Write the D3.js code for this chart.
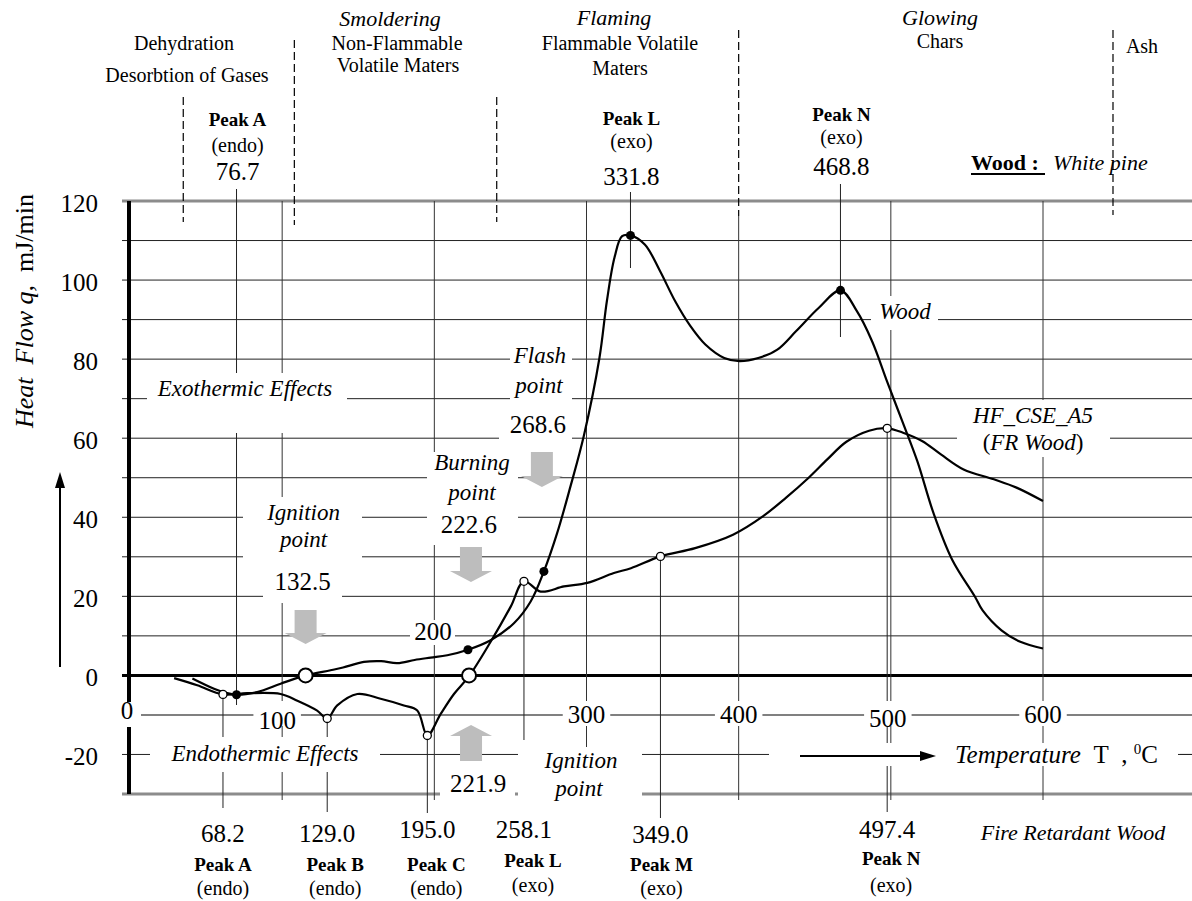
<!DOCTYPE html>
<html>
<head>
<meta charset="utf-8">
<script src="https://cdn.jsdelivr.net/npm/d3@7"></script>
<style>
  body { margin: 0; background: #fff; }
  svg { display: block; }
  text { font-family: "Liberation Serif", "Times New Roman", serif; fill: #000; }
</style>
</head>
<body>
<div id="chart"></div>
<script>
// DATA

// Wood (white pine) heat flow curve, T in degC, q in mJ/min
const woodT = [41, 55.2, 62, 70, 83.6, 99, 115.4, 131.8, 140, 153.7, 165, 175.6, 187, 197.6, 208.5, 222.1,
  237, 252.3, 263.3, 272, 280.8, 289.6, 298.3, 308.5, 313.4, 318.4, 323.4, 328.9, 338.3, 348.3, 358.2,
  368.2, 378.1, 390.5, 400.5, 412.9, 425.4, 437.8, 452.7, 466.9, 477.6, 487.6, 497.5, 507.5, 517.4,
  528, 540.4, 555.3, 560.2, 572.7, 585.1, 600];
const woodQ = [-0.8, -3.4, -4.3, -4.9, -4.2, -2.1, 0, 1.3, 2.0, 3.4, 3.6, 3.1, 3.9, 4.5, 5.1, 6.5,
  8.9, 13.2, 18.7, 26.3, 36.1, 48, 60.7, 80.3, 94.7, 105.7, 111.1, 111.3, 109, 102.3, 94.7,
  88.4, 83.7, 80.3, 79.5, 80.3, 82.4, 87.1, 93, 97.4, 92.2, 84.6, 74.4, 64.3, 54.2,
  41.1, 29.2, 19.9, 16.5, 11.4, 8.5, 6.8];

// Fire retardant wood (HF_CSE_A5)
const frT = [29, 44.2, 61.1, 77, 99, 110, 123, 129.6, 136.2, 149.4, 164.7, 180, 188.8, 195.4, 204.1,
  212.9, 222.8, 237, 250.2, 258.9, 269.9, 285.2, 300.5, 318, 329.2, 348.6, 371.4, 396.3, 416.1,
  431, 446, 458.4, 470.8, 485.7, 497.6, 508, 520.5, 532.9, 547.8, 567.7, 582.6, 600];
const frQ = [-0.7, -2.5, -4.8, -4.5, -4.7, -6.4, -8.9, -10.9, -7.6, -4.7, -5.9, -7.6, -8.9, -15.2, -9.8,
  -4.7, -0.2, 8.5, 17.4, 23.8, 21.2, 22.5, 23.4, 25.9, 27.1, 30.1, 32.2, 35.6, 40.3,
  44.9, 50, 54.7, 59.1, 61.9, 62.5, 61.4, 59.3, 55.9, 52.1, 49.6, 47.5, 44.1];

// marked points
const woodPeakT = [70, 222.1, 272, 328.9, 466.9];
const woodPeakQ = [-4.9, 6.5, 26.3, 111.3, 97.4];
const frPeakT = [61.1, 129.6, 195.4, 258.9, 348.6, 497.6];
const frPeakQ = [-4.8, -10.9, -15.2, 23.8, 30.1, 62.5];
const ignitionT = [115.4, 222.8];
const ignitionQ = [0, 0];

// axes
const yTicks = [120, 100, 80, 60, 40, 20, 0, -20];
const xTicks = [0, 100, 300, 400, 500, 600];
const xGrid = [100, 200, 300, 400, 500, 600];
const phaseBoundsT = [35, 108, 241, 400, 646];

// labels
const topPeakNames = ['Peak A', 'Peak L', 'Peak N'];
const topPeakKinds = ['(endo)', '(exo)', '(exo)'];
const topPeakValues = ['76.7', '331.8', '468.8'];
const bottomPeakNames = ['Peak A', 'Peak B', 'Peak C', 'Peak L', 'Peak M', 'Peak N'];
const bottomPeakKinds = ['(endo)', '(endo)', '(endo)', '(exo)', '(exo)', '(exo)'];
const bottomPeakValues = ['68.2', '129.0', '195.0', '258.1', '349.0', '497.4'];
const pointValues = ['132.5', '222.6', '268.6', '221.9'];

// ------------------------------------------------

var W = 1192, H = 901;

var x = d3.scaleLinear().domain([0, 600]).range([130, 1043]);
var y = d3.scaleLinear().domain([-30, 120]).range([794, 201]);

var svg = d3.select('#chart')
  .append('svg')
    .attr('width', W)
    .attr('height', H)
    .attr('font-family', '"Liberation Serif", "Times New Roman", serif');

var gGrid = svg.append('g');
var gBox = svg.append('g');
var gText = svg.append('g');
var gCurve = svg.append('g');

// horizontal grid lines, every 10 units
function hStyle(v) {
  if (v === 120 || v === -30) return ['#8c8c8c', 3];
  if (v === 0) return ['#000', 3];
  if (v === -10) return ['#808080', 2];
  return ['#222', 1];
}
gGrid.selectAll('line.h')
  .data(d3.range(-30, 121, 10))
  .join('line')
    .attr('class', 'h')
    .attr('x1', 122)
    .attr('x2', W)
    .attr('y1', d => y(d))
    .attr('y2', d => y(d))
    .attr('stroke', d => hStyle(d)[0])
    .attr('stroke-width', d => hStyle(d)[1]);

// vertical grid lines
gGrid.selectAll('line.v')
  .data(xGrid)
  .join('line')
    .attr('class', 'v')
    .attr('x1', d => x(d))
    .attr('x2', d => x(d))
    .attr('y1', d => d === 400 ? 216 : 201)
    .attr('y2', 800)
    .attr('stroke', '#333')
    .attr('stroke-width', 1);

// dashed phase boundaries above the plot
var phaseSpan = [[97, 222], [40, 225], [97, 222], [30, 216], [30, 215]];
gGrid.selectAll('line.phase')
  .data(phaseBoundsT)
  .join('line')
    .attr('x1', d => x(d))
    .attr('x2', d => x(d))
    .attr('y1', (d, i) => phaseSpan[i][0])
    .attr('y2', (d, i) => phaseSpan[i][1])
    .attr('stroke', '#000')
    .attr('stroke-width', 1.2)
    .attr('stroke-dasharray', '8,4');

// drop lines through the wood peaks (A, L, N)
var woodLineIdx = [0, 3, 4];
var woodLineSpan = [[189, 705], [192, 268], [184, 337]];
gGrid.selectAll('line.wp')
  .data(woodLineIdx)
  .join('line')
    .attr('x1', d => x(woodPeakT[d]))
    .attr('x2', d => x(woodPeakT[d]))
    .attr('y1', (d, i) => woodLineSpan[i][0])
    .attr('y2', (d, i) => woodLineSpan[i][1])
    .attr('stroke', '#222')
    .attr('stroke-width', 1);

// drop lines from the FR wood peaks
var frLineEnd = [808, 812, 813, 740, 818, 812];
gGrid.selectAll('line.fp')
  .data(frPeakT)
  .join('line')
    .attr('x1', d => x(d))
    .attr('x2', d => x(d))
    .attr('y1', (d, i) => y(frPeakQ[i]))
    .attr('y2', (d, i) => frLineEnd[i])
    .attr('stroke', '#222')
    .attr('stroke-width', 1);

// thick y axis
gGrid.append('line')
    .attr('x1', 129).attr('x2', 129)
    .attr('y1', y(120)).attr('y2', y(-30))
    .attr('stroke', '#000')
    .attr('stroke-width', 4);

// white label boxes (they cut the grid like the text frames of the original)
var boxes = [
  [147, 373, 347, 433],   // Exothermic Effects
  [150, 737, 380, 772],   // Endothermic Effects
  [243, 497, 362, 562],   // Ignition point
  [263, 562, 342, 603],   // 132.5
  [427, 452, 518, 545],   // Burning point 222.6
  [510, 342, 572, 408],   // Flash point
  [499, 408, 572, 450],   // 268.6
  [410, 620, 455, 645],   // 200
  [440, 765, 515, 800],   // 221.9
  [518, 747, 642, 800],   // Ignition point (bottom)
  [871, 296, 938, 330],   // Wood
  [957, 400, 1110, 457],  // HF_CSE_A5
  [769, 743, 1180, 766],  // Temperature
  [116, 702, 141, 727]    // 0
];
gBox.selectAll('rect.b')
  .data(boxes)
  .join('rect')
    .attr('x', d => d[0])
    .attr('y', d => d[1])
    .attr('width', d => d[2] - d[0])
    .attr('height', d => d[3] - d[1])
    .attr('fill', '#fff');

// x tick labels sit on the -10 line
var xLabOff = [-3, -5, 0, 0, -3, 0];
var xLabBase = [719, 729, 723, 723, 727, 723];
xTicks.forEach(function(t, i) {
  if (t === 0) return;
  var cx = x(t) + xLabOff[i];
  var w = String(t).length * 12.5 + 10;
  gBox.append('rect')
      .attr('x', cx - w / 2).attr('y', 701)
      .attr('width', w).attr('height', 25)
      .attr('fill', '#fff');
});
gText.selectAll('text.xt')
  .data(xTicks)
  .join('text')
    .attr('x', (d, i) => x(d) + xLabOff[i])
    .attr('y', (d, i) => xLabBase[i])
    .attr('text-anchor', 'middle')
    .style('font-size', '25px')
    .text(d => d);

// y tick labels
gText.selectAll('text.yt')
  .data(yTicks)
  .join('text')
    .attr('x', 98)
    .attr('y', d => y(d) + 11)
    .attr('text-anchor', 'end')
    .style('font-size', '25px')
    .text(d => d);

// generic text helper
function label(px, py, str, size, opts) {
  opts = opts || {};
  return gText.append('text')
      .attr('x', px)
      .attr('y', py)
      .attr('text-anchor', opts.anchor || 'middle')
      .style('font-size', size + 'px')
      .style('font-style', opts.italic ? 'italic' : 'normal')
      .style('font-weight', opts.bold ? 'bold' : 'normal')
      .text(str);
}

// header: stages of decomposition
label(390, 26, 'Smoldering', 22, {italic: true});
label(397, 50, 'Non-Flammable', 20);
label(398, 72, 'Volatile Maters', 20);
label(184, 50, 'Dehydration', 20);
label(187, 82, 'Desorbtion of Gases', 20);
label(614, 25, 'Flaming', 22, {italic: true});
label(620, 50, 'Flammable Volatile', 20);
label(620, 75, 'Maters', 20);
label(940, 25, 'Glowing', 22, {italic: true});
label(940, 48, 'Chars', 20);
label(1142, 53, 'Ash', 20);
label(971, 170, 'Wood :', 22, {bold: true, anchor: 'start'});
gText.append('line')
    .attr('x1', 971).attr('x2', 1045)
    .attr('y1', 174).attr('y2', 174)
    .attr('stroke', '#000').attr('stroke-width', 2);
label(1053, 170, 'White pine', 22, {italic: true, anchor: 'start'});

// top peak labels (wood)
var topNameY = [126, 125, 121], topKindY = [152, 148, 144], topValY = [180, 185, 175];
woodLineIdx.forEach(function(k, i) {
  var cx = x(woodPeakT[k]) + 1;
  label(cx, topNameY[i], topPeakNames[i], 19, {bold: true});
  label(cx, topKindY[i], topPeakKinds[i], 20);
  label(cx, topValY[i], topPeakValues[i], 25);
});

// bottom peak labels (FR wood)
var botNameOff = [0, 8, 9, 9, 1, 4];
var botValY = [842, 842, 838, 838, 843, 838];
var botNameY = [871, 871, 871, 867, 871, 865];
var botKindY = [895, 895, 895, 892, 895, 892];
frPeakT.forEach(function(t, i) {
  var cx = x(t);
  label(cx, botValY[i], bottomPeakValues[i], 25);
  label(cx + botNameOff[i], botNameY[i], bottomPeakNames[i], 19, {bold: true});
  label(cx + botNameOff[i], botKindY[i], bottomPeakKinds[i], 20);
});
label(1073, 840, 'Fire Retardant Wood', 22, {italic: true});

// region notes
label(245, 396, 'Exothermic Effects', 23, {italic: true});
label(265, 761, 'Endothermic Effects', 23, {italic: true});
label(433, 640, '200', 25);

// ignition / burning / flash points
var ix = x(ignitionT[0]);
label(ix - 2, 520, 'Ignition', 23, {italic: true});
label(ix - 2, 547, 'point', 23, {italic: true});
label(ix - 3, 590, pointValues[0], 25);
var bx = x(woodPeakT[1]);
label(bx + 4, 470, 'Burning', 23, {italic: true});
label(bx + 4, 500, 'point', 23, {italic: true});
label(bx + 1, 533, pointValues[1], 25);
var fx = x(woodPeakT[2]);
label(fx - 4, 363, 'Flash', 23, {italic: true});
label(fx - 5, 393, 'point', 23, {italic: true});
label(fx - 6, 433, pointValues[2], 25);
var gx = x(ignitionT[1]);
label(gx + 9, 792, pointValues[3], 25);
label(581, 768, 'Ignition', 23, {italic: true});
label(579, 796, 'point', 23, {italic: true});

// curve names
label(905, 319, 'Wood', 23, {italic: true});
label(1033, 423, 'HF_CSE_A5', 23, {italic: true});
var fr = gText.append('text')
    .attr('x', 1033).attr('y', 450)
    .attr('text-anchor', 'middle')
    .style('font-size', '23px');
fr.append('tspan').text('(');
fr.append('tspan').style('font-style', 'italic').text('FR Wood');
fr.append('tspan').text(')');

// y axis title and arrow
var yt = gText.append('text')
    .attr('transform', 'translate(33,311) rotate(-90)')
    .attr('text-anchor', 'middle')
    .style('font-size', '26px');
yt.append('tspan').style('font-style', 'italic').text('Heat\u00a0\u00a0Flow q,');
yt.append('tspan').text('\u00a0\u00a0mJ/min');
gText.append('line')
    .attr('x1', 60).attr('x2', 60)
    .attr('y1', 667).attr('y2', 485)
    .attr('stroke', '#000').attr('stroke-width', 2);
gText.append('path')
    .attr('d', 'M60,472 L55,488 L65,488 Z')
    .attr('fill', '#000');

// x axis title and arrow
gText.append('line')
    .attr('x1', 800).attr('x2', 922)
    .attr('y1', 756).attr('y2', 756)
    .attr('stroke', '#000').attr('stroke-width', 2);
gText.append('path')
    .attr('d', 'M936,756 L920,751 L920,761 Z')
    .attr('fill', '#000');
var xt = gText.append('text')
    .attr('x', 955).attr('y', 763)
    .style('font-size', '25px');
xt.append('tspan').style('font-style', 'italic').text('Temperature');
xt.append('tspan').text('\u00a0\u00a0T\u00a0\u00a0,\u00a0');
xt.append('tspan').attr('dy', -9).style('font-size', '15px').text('0');
xt.append('tspan').attr('dy', 9).text('C');
gText.append('line')
    .attr('x1', 1178).attr('x2', W)
    .attr('y1', y(-20)).attr('y2', y(-20))
    .attr('stroke', '#222').attr('stroke-width', 1);

// gray block arrows
function blockArrow(cx, top, bottom, up) {
  var sw = 11, hw = 21, hh = 11;
  var pts;
  if (up) {
    pts = [[cx, top], [cx + hw, top + hh], [cx + sw, top + hh], [cx + sw, bottom],
           [cx - sw, bottom], [cx - sw, top + hh], [cx - hw, top + hh]];
  } else {
    pts = [[cx - sw, top], [cx + sw, top], [cx + sw, bottom - hh], [cx + hw, bottom - hh],
           [cx, bottom], [cx - hw, bottom - hh], [cx - sw, bottom - hh]];
  }
  gText.append('path')
      .attr('d', 'M' + pts.map(p => p.join(',')).join('L') + 'Z')
      .attr('fill', '#bdbdbd');
}
blockArrow(ix, 610, 644, false);
blockArrow(bx + 3, 547, 582, false);
blockArrow(fx - 2, 452, 487, false);
blockArrow(gx + 2, 725, 761, true);

// CURVES
function curvePath(T, Q) {
  return d3.line()
      .x(i => x(T[i]))
      .y(i => y(Q[i]))
      .curve(d3.curveCatmullRom.alpha(0.5))(d3.range(T.length));
}
gCurve.append('path')
    .attr('d', curvePath(frT, frQ))
    .attr('fill', 'none')
    .attr('stroke', '#000')
    .attr('stroke-width', 2.2);
gCurve.append('path')
    .attr('d', curvePath(woodT, woodQ))
    .attr('fill', 'none')
    .attr('stroke', '#000')
    .attr('stroke-width', 2.2);

// markers
gCurve.selectAll('circle.w')
  .data(woodPeakT)
  .join('circle')
    .attr('cx', d => x(d))
    .attr('cy', (d, i) => y(woodPeakQ[i]))
    .attr('r', 4.5)
    .attr('fill', '#000');
gCurve.selectAll('circle.f')
  .data(frPeakT)
  .join('circle')
    .attr('cx', d => x(d))
    .attr('cy', (d, i) => y(frPeakQ[i]))
    .attr('r', 4)
    .attr('fill', '#fff')
    .attr('stroke', '#000')
    .attr('stroke-width', 1.3);
gCurve.selectAll('circle.g')
  .data(ignitionT)
  .join('circle')
    .attr('cx', d => x(d))
    .attr('cy', (d, i) => y(ignitionQ[i]))
    .attr('r', 7)
    .attr('fill', '#fff')
    .attr('stroke', '#000')
    .attr('stroke-width', 2);
</script>
</body>
</html>
